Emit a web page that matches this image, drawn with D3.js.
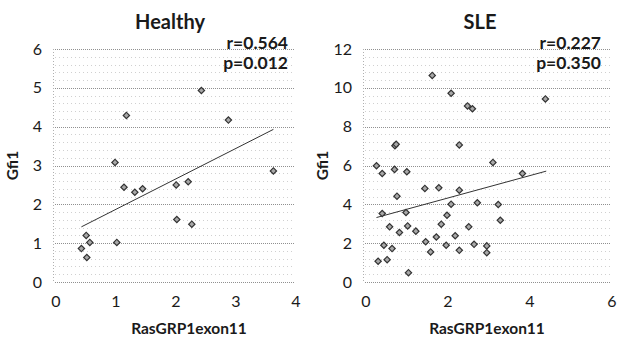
<!DOCTYPE html>
<html>
<head>
<meta charset="utf-8">
<script src="https://d3js.org/d3.v7.min.js"></script>
<style>
body { margin:0; background:#fff; }
text { font-family: Lato, "Open Sans", sans-serif; fill:#1a1a1a; }
</style>
</head>
<body>
<div id="chart"></div>
<script>
// Healthy panel
var healthyX = [0.44,0.53,0.52,0.58,1.03,1.00,1.15,1.19,1.33,1.46,2.02,2.22,2.03,2.28,2.44,2.89,3.64];
var healthyY = [0.86,0.63,1.20,1.02,1.02,3.08,2.44,4.29,2.31,2.40,2.50,2.58,1.61,1.49,4.93,4.17,2.86];
var healthyTrend = [[0.44,1.42],[3.64,3.93]];

// SLE panel
var sleX = [0.28,0.42,0.42,0.46,0.32,0.54,0.60,0.66,0.73,0.76,0.72,0.78,0.84,1.02,1.00,1.04,1.06,1.24,1.46,1.48,1.60,1.64,1.80,1.74,1.86,2.00,1.98,2.10,2.10,2.20,2.30,2.30,2.30,2.50,2.62,2.53,2.66,2.74,2.97,2.97,3.12,3.25,3.30,3.84,4.40];
var sleY = [5.99,5.59,3.53,1.89,1.07,1.15,2.84,1.72,7.02,7.09,5.80,4.42,2.55,5.68,3.58,2.89,0.48,2.62,4.82,2.07,1.55,10.64,4.85,2.32,2.98,3.44,1.89,4.01,9.72,2.38,7.06,4.73,1.63,9.07,8.92,2.84,1.94,4.08,1.86,1.51,6.16,3.99,3.18,5.59,9.43];
var sleTrend = [[0.28,3.32],[4.42,5.71]];

(function(){

var panels = [
	{title:"Healthy", r:"r=0.564", p:"p=0.012", xs:healthyX, ys:healthyY, trend:healthyTrend,
	 xmax:4, xstep:1, ymax:6, ystep:1, left:55, right:295, titleX:170, statX:288, xlabX:189},
	{title:"SLE", r:"r=0.227", p:"p=0.350", xs:sleX, ys:sleY, trend:sleTrend,
	 xmax:6, xstep:2, ymax:12, ystep:2, left:365, right:611, titleX:480, statX:601, xlabX:487}
];

var plotTop = 49, plotBottom = 282;

var svg = d3.select("#chart").append("svg")
	.attr("width",623)
	.attr("height",338)

svg.append("rect").attr("width",623).attr("height",338).style("fill","#fff")

panels.forEach(function(pn){
	var x = d3.scaleLinear().domain([0,pn.xmax]).range([pn.left,pn.right]);
	var y = d3.scaleLinear().domain([0,pn.ymax]).range([plotBottom,plotTop]);
	var g = svg.append("g")

	// minor gridlines
	var minor = d3.range(0,pn.ymax+1e-9,pn.ystep/5).filter(function(v){return Math.abs(v/pn.ystep-Math.round(v/pn.ystep))>1e-6})
	g.selectAll(".minor").data(minor).enter().append("line")
		.attr("x1",x(0)).attr("x2",x(pn.xmax))
		.attr("y1",function(d){return Math.round(y(d))+0.5})
		.attr("y2",function(d){return Math.round(y(d))+0.5})
		.style("stroke","#d0d0d0").style("stroke-dasharray","1,3")

	// major gridlines
	var major = d3.range(0,pn.ymax+1e-9,pn.ystep)
	g.selectAll(".major").data(major).enter().append("line")
		.attr("x1",x(0)).attr("x2",x(pn.xmax))
		.attr("y1",function(d){return Math.round(y(d))+0.5})
		.attr("y2",function(d){return Math.round(y(d))+0.5})
		.style("stroke","#909090").style("stroke-dasharray","1,1")

	// left edge
	g.append("line").attr("x1",x(0)-1.5).attr("x2",x(0)-1.5).attr("y1",y(pn.ymax)).attr("y2",y(0))
		.style("stroke","#b0b0b0").style("stroke-dasharray","1,2")

	// y ticks
	g.selectAll(".ytick").data(major).enter().append("text")
		.attr("x",x(0)-13).attr("y",function(d){return y(d)+5.5})
		.style("text-anchor","end").style("font-size","16px")
		.text(function(d){return d})

	// x ticks
	g.selectAll(".xtick").data(d3.range(0,pn.xmax+1e-9,pn.xstep)).enter().append("text")
		.attr("x",function(d){return x(d)+1}).attr("y",plotBottom+25)
		.style("text-anchor","middle").style("font-size","16px")
		.text(function(d){return d})

	// trend line
	g.append("line")
		.attr("x1",x(pn.trend[0][0])).attr("y1",y(pn.trend[0][1]))
		.attr("x2",x(pn.trend[1][0])).attr("y2",y(pn.trend[1][1]))
		.style("stroke","#333").style("stroke-width",1)

	// points
	var pts = pn.xs.map(function(v,i){return [v,pn.ys[i]]})
	g.selectAll(".pt").data(pts).enter().append("path")
		.attr("d",d3.symbol().type(d3.symbolSquare).size(20))
		.attr("transform",function(d){return "translate("+x(d[0])+","+y(d[1])+") rotate(45)"})
		.style("fill","#a8a8a8").style("stroke","#333").style("stroke-width",1.2)

	// title and stats
	g.append("text").attr("x",pn.titleX).attr("y",29)
		.style("text-anchor","middle").style("font-size","20px").style("font-weight","bold")
		.text(pn.title)
	g.append("text").attr("x",pn.statX).attr("y",49)
		.style("text-anchor","end").style("font-size","17.5px").style("font-weight","bold")
		.text(pn.r)
	g.append("text").attr("x",pn.statX).attr("y",69)
		.style("text-anchor","end").style("font-size","17.5px").style("font-weight","bold")
		.text(pn.p)

	// axis labels
	g.append("text").attr("x",pn.xlabX).attr("y",plotBottom+52)
		.style("text-anchor","middle").style("font-size","15.5px").style("font-weight","bold")
		.text("RasGRP1exon11")
	g.append("text")
		.attr("transform","translate("+(pn.left-37)+","+((plotTop+plotBottom)/2)+") rotate(-90)")
		.style("text-anchor","middle").style("font-size","15.5px").style("font-weight","bold")
		.text("Gfi1")
})

})()
</script>
</body>
</html>
